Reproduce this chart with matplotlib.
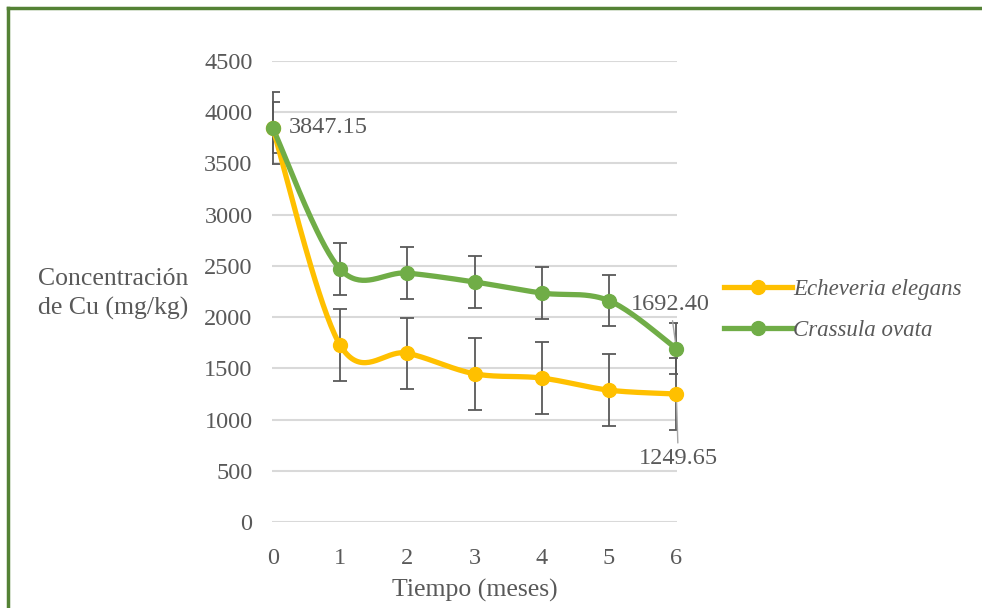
import numpy as np
import matplotlib
matplotlib.use("Agg")
import matplotlib.pyplot as plt
from matplotlib.lines import Line2D

months = [0, 1, 2, 3, 4, 5, 6]
echeveria = [3847.15, 1730, 1648, 1447, 1405, 1287, 1249.65]
crassula = [3847.15, 2470, 2430, 2343, 2235, 2160, 1692.40]
echeveria_err = [350, 350, 345, 350, 350, 350, 350]
crassula_err = [250, 250, 250, 250, 250, 250, 250]
series_names = ["Echeveria elegans", "Crassula ovata"]
yticks = [0, 500, 1000, 1500, 2000, 2500, 3000, 3500, 4000, 4500]

YELLOW = "#FFC000"
GREEN = "#70AD47"
TXT = "#595959"
ERRC = "#595959"

plt.rcParams['font.family'] = ['Liberation Serif', 'DejaVu Serif']


def smooth(x, y, n=40):
    x = np.asarray(x, float)
    y = np.asarray(y, float)
    P = np.column_stack([x, y])
    Pm = np.vstack([P[0], P, P[-1]])
    out = []
    t = np.linspace(0, 1, n)[:, None]
    for i in range(len(P) - 1):
        p0, p3 = Pm[i + 1], Pm[i + 2]
        c1 = p0 + (Pm[i + 2] - Pm[i]) / 6.0
        c2 = p3 - (Pm[i + 3] - Pm[i + 1]) / 6.0
        seg = ((1 - t) ** 3) * p0 + 3 * ((1 - t) ** 2) * t * c1 + 3 * (1 - t) * t ** 2 * c2 + t ** 3 * p3
        out.append(seg if i == 0 else seg[1:])
    seg = np.vstack(out)
    return seg[:, 0], seg[:, 1]


fig = plt.figure(figsize=(9.82, 6.08), dpi=100)
ax = fig.add_axes([272 / 982, 1 - 522 / 608, (677 - 272) / 982, (522 - 61) / 608])
ax.set_xlim(-0.01, 6.01)
ax.set_ylim(0, 4500)
ax.set_yticks(yticks)
ax.set_xticks(months)
ax.yaxis.grid(True, color="#D9D9D9", linewidth=1.5)
ax.set_axisbelow(True)
for s in ax.spines.values():
    s.set_visible(False)
ax.tick_params(length=0, labelsize=17.5, colors=TXT)
ax.tick_params(axis='y', pad=14)
ax.tick_params(axis='x', pad=19)

for vals, err in [(echeveria, echeveria_err), (crassula, crassula_err)]:
    ax.errorbar(months, vals, yerr=err, fmt='none', ecolor=ERRC, elinewidth=1.3,
                capsize=5, capthick=1.3, zorder=2)

handles = []
for vals, col, name in [(echeveria, YELLOW, series_names[0]), (crassula, GREEN, series_names[1])]:
    sx, sy = smooth(months, vals)
    ax.plot(sx, sy, color=col, linewidth=3.8, solid_capstyle='round', zorder=3)
    ax.plot(months, vals, 'o', color=col, markersize=10, zorder=4, clip_on=False)
    handles.append(Line2D([0], [0], color=col, linewidth=3.8, marker='o', markersize=10, label=name))

ax.annotate(f"{crassula[0]:.2f}", (months[0], crassula[0]), xytext=(16, 0),
            textcoords='offset pixels', ha='left', va='center', fontsize=17.5, color=TXT)
ax.annotate(f"{crassula[-1]:.2f}", (months[-1], crassula[-1]), xytext=(-6, 44),
            textcoords='offset pixels', ha='center', va='center', fontsize=17.5, color=TXT,
            arrowprops=dict(arrowstyle='-', color='#A6A6A6', lw=1, shrinkA=2, shrinkB=4))
ax.annotate(f"{echeveria[-1]:.2f}", (months[-1], echeveria[-1]), xytext=(2, -65),
            textcoords='offset pixels', ha='center', va='center', fontsize=17.5, color=TXT,
            arrowprops=dict(arrowstyle='-', color='#A6A6A6', lw=1, shrinkA=2, shrinkB=4))

ax.set_xlabel("Tiempo (meses)", fontsize=18.5, color=TXT, labelpad=7)
fig.text(38 / 982, 1 - 294 / 608, "Concentración\nde Cu (mg/kg)", ha='left', va='center',
         fontsize=18.5, color=TXT, linespacing=1.4)

leg = fig.legend(handles=handles, loc='center left', bbox_to_anchor=(713 / 982, 1 - 310 / 608),
                 frameon=False, handlelength=2.95, handletextpad=0.05,
                 labelspacing=0.85, borderpad=0, prop={'style': 'italic', 'size': 16.5})
for t in leg.get_texts():
    t.set_color(TXT)

fig.add_artist(Line2D([8 / 982, 1], [1 - 8 / 608, 1 - 8 / 608], transform=fig.transFigure,
                      color="#548235", linewidth=2.5))
fig.add_artist(Line2D([8 / 982, 8 / 982], [0, 1 - 8 / 608], transform=fig.transFigure,
                      color="#548235", linewidth=2.5))

fig.savefig("out.png", dpi=100)
